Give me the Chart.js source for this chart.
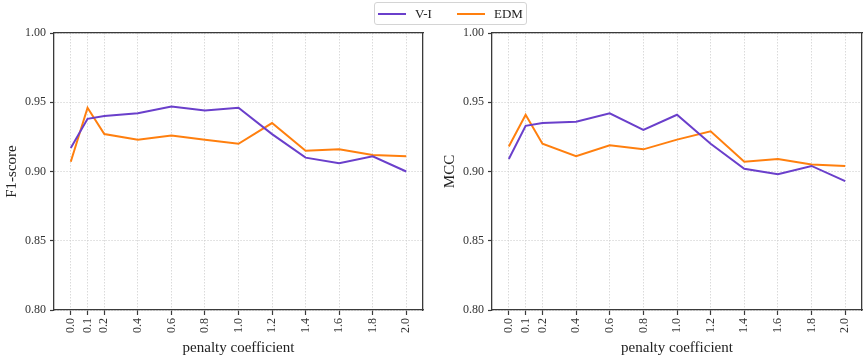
<!DOCTYPE html>
<html><head><meta charset="utf-8">
<script src="https://cdn.jsdelivr.net/npm/chart.js@4.4.0/dist/chart.umd.min.js"></script>
<style>
html,body{margin:0;padding:0;background:#fff;width:865px;height:358px;overflow:hidden;font-family:"Liberation Serif",serif}
.panel{position:absolute;top:0}
canvas{display:block}
#legend{position:absolute;left:374px;top:2px;width:153px;height:23px;box-sizing:border-box;border:1px solid #d4d4d4;border-radius:3px;font-size:13px;color:#222}
.item{position:absolute;top:0;height:21px;display:flex;align-items:center}
.swatch{width:28px;height:2px;margin-right:9px}
</style></head><body>
<div class="panel" style="left:0"><canvas id="c1" width="432" height="358"></canvas></div>
<div class="panel" style="left:438px"><canvas id="c2" width="427" height="358"></canvas></div>
<div id="legend"></div>
<script>
const penalty = [0.0, 0.1, 0.2, 0.4, 0.6, 0.8, 1.0, 1.2, 1.4, 1.6, 1.8, 2.0];
const xTickValues = [0.0, 0.1, 0.2, 0.4, 0.6, 0.8, 1.0, 1.2, 1.4, 1.6, 1.8, 2.0];
const yTickValues = [0.80, 0.85, 0.90, 0.95, 1.00];
const seriesNames = ["V-I", "EDM"];
const seriesColors = ["#6a3fcb", "#ff7f0e"];
const f1VI  = [0.917, 0.938, 0.940, 0.942, 0.947, 0.944, 0.946, 0.927, 0.910, 0.906, 0.911, 0.900];
const f1EDM = [0.907, 0.946, 0.927, 0.923, 0.926, 0.923, 0.920, 0.935, 0.915, 0.916, 0.912, 0.911];
const mccVI  = [0.909, 0.933, 0.935, 0.936, 0.942, 0.930, 0.941, 0.920, 0.902, 0.898, 0.904, 0.893];
const mccEDM = [0.918, 0.941, 0.920, 0.911, 0.919, 0.916, 0.923, 0.929, 0.907, 0.909, 0.905, 0.904];
const yLabels = ["F1-score", "MCC"];
const xTitle = "penalty coefficient";

const FONT = "'Liberation Serif', 'Times New Roman', serif";
const frame = "#3a3a3a";
const gridCol = "#d0d0d0";

function makeChart(id, ser1, ser2, ylab, padRight) {
  const ds = [ser1, ser2].map((s, i) => ({
    label: seriesNames[i],
    data: penalty.map((x, j) => ({x: x, y: s[j]})),
    borderColor: seriesColors[i],
    backgroundColor: seriesColors[i],
    borderWidth: 2,
    pointRadius: 0,
    tension: 0,
    fill: false
  }));
  return new Chart(document.getElementById(id), {
    type: 'line',
    data: {datasets: ds},
    options: {
      responsive: false,
      animation: false,
      events: [],
      layout: {padding: {left: 0, top: 33, right: padRight, bottom: 0}},
      plugins: {legend: {display: false}, tooltip: {enabled: false}},
      scales: {
        x: {
          type: 'linear', position: 'bottom', min: -0.1, max: 2.1,
          afterBuildTicks: s => { s.ticks = xTickValues.map(v => ({value: v})); },
          afterFit: s => { s.height = 48; },
          ticks: {
            autoSkip: false, minRotation: 90, maxRotation: 90, padding: 3,
            color: '#333', font: {family: FONT, size: 12},
            callback: v => Number(v).toFixed(1)
          },
          grid: {color: gridCol, lineWidth: 0.8, drawTicks: true, tickLength: 5, tickColor: frame, tickWidth: 1.2},
          border: {display: true, color: frame, width: 1.3, dash: [1.5, 1.5]},
          title: {display: true, text: xTitle, color: '#222', font: {family: FONT, size: 15}, padding: {top: 0, bottom: 1}}
        },
        y: {
          type: 'linear', position: 'left', min: 0.8, max: 1.0,
          afterBuildTicks: s => { s.ticks = yTickValues.map(v => ({value: v})); },
          afterFit: s => { s.width = 54; },
          ticks: {padding: 4, color: '#333', font: {family: FONT, size: 12}, callback: v => Number(v).toFixed(2)},
          grid: {color: gridCol, lineWidth: 0.8, drawTicks: true, tickLength: 4, tickColor: frame, tickWidth: 1.2},
          border: {display: true, color: frame, width: 1.3, dash: [1.5, 1.5]},
          title: {display: true, text: ylab, color: '#222', font: {family: FONT, size: 15}, padding: {top: 3, bottom: 2}}
        },
        x2: {
          type: 'linear', position: 'top', display: true,
          afterFit: s => { s.height = 0; },
          ticks: {display: false},
          grid: {drawOnChartArea: false, drawTicks: false},
          border: {display: true, color: frame, width: 1.3}
        },
        y2: {
          type: 'linear', position: 'right', display: true,
          afterFit: s => { s.width = 0; },
          ticks: {display: false},
          grid: {drawOnChartArea: false, drawTicks: false},
          border: {display: true, color: frame, width: 1.3}
        }
      }
    }
  });
}

makeChart('c1', f1VI, f1EDM, yLabels[0], 9);
makeChart('c2', mccVI, mccEDM, yLabels[1], 3);

const lg = document.getElementById('legend');
const lefts = [3, 82];
seriesNames.forEach((n, i) => {
  const it = document.createElement('div');
  it.className = 'item';
  it.style.left = lefts[i] + 'px';
  const sw = document.createElement('span');
  sw.className = 'swatch';
  sw.style.background = seriesColors[i];
  const tx = document.createElement('span');
  tx.textContent = n;
  it.appendChild(sw); it.appendChild(tx);
  lg.appendChild(it);
});
</script>
</body></html>
